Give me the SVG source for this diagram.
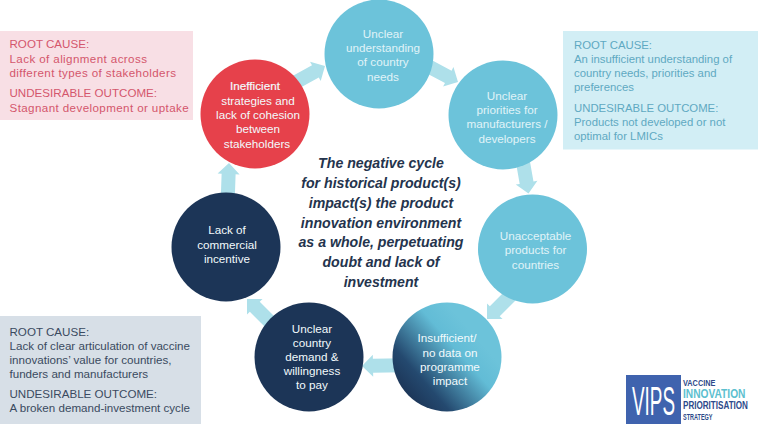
<svg xmlns="http://www.w3.org/2000/svg" width="758" height="424" viewBox="0 0 758 424">
<style>
text{font-family:"Liberation Sans",Arial,sans-serif}
.n{font-size:11.7px;fill:#f2fafc;text-anchor:middle}
.l{fill:#e0f3f8}
.r{font-size:11.6px;fill:#d4566c}.s{letter-spacing:0.4px}
.t{font-size:11.35px;fill:#5fa9c2}.d{font-size:11.6px;fill:#3a4a60}
.c{font-size:14.15px;font-weight:bold;font-style:italic;fill:#24344d;text-anchor:middle}
.ar{fill:#aee0ea}
.lg{font-weight:bold;fill:#2d4a8a}
</style>
<defs>
<linearGradient id="g" x1="0.12" y1="0.85" x2="0.75" y2="0.3">
<stop offset="0" stop-color="#1c3557"/><stop offset="0.25" stop-color="#24496f"/><stop offset="0.75" stop-color="#62bcd6"/><stop offset="1" stop-color="#6cc3da"/>
</linearGradient>
<path id="a" d="M0,0L-11,-11L-11,-7L-40,-7L-40,7L-11,7L-11,11Z"/>
</defs>
<rect width="758" height="424" fill="#fff"/>
<g id="connectors" class="ar">
<use href="#a" transform="translate(325,66) rotate(-29)"/>
<use href="#a" transform="translate(458,82) rotate(28)"/>
<use href="#a" transform="translate(528.500,193.500) rotate(80)"/>
<use href="#a" transform="translate(487,319) rotate(135)"/>
<use href="#a" transform="translate(362,366) rotate(179)"/>
<use href="#a" transform="translate(247,299) rotate(-135)"/>
<use href="#a" transform="translate(229,163) rotate(-88)"/>
</g>
<g id="box-red">
<rect x="0" y="31" width="193" height="89" fill="#f8dfe5"/>
<text class="r" x="9.500" y="48">ROOT CAUSE:</text>
<text class="r s" x="9.500" y="62.700">Lack of alignment across</text>
<text class="r s" x="9.500" y="76.700">different types of stakeholders</text>
<text class="r" x="9.500" y="97">UNDESIRABLE OUTCOME:</text>
<text class="r s" x="9.500" y="111.700">Stagnant development or uptake</text>
</g>
<g id="box-teal">
<rect x="563" y="31" width="195" height="118.500" fill="#d2eef5"/>
<text class="t" x="574" y="49">ROOT CAUSE:</text>
<text class="t" x="574" y="63">An insufficient understanding of</text>
<text class="t" x="574" y="77">country needs, priorities and</text>
<text class="t" x="574" y="91">preferences</text>
<text class="t" x="574" y="112">UNDESIRABLE OUTCOME:</text>
<text class="t" x="574" y="126">Products not developed or not</text>
<text class="t" x="574" y="140">optimal for LMICs</text>
</g>
<g id="box-navy">
<rect x="0" y="316" width="201" height="108" fill="#d7dfe7"/>
<text class="d" x="9.500" y="335.700">ROOT CAUSE:</text>
<text class="d" x="9.500" y="350">Lack of clear articulation of vaccine</text>
<text class="d" x="9.500" y="364">innovations’ value for countries,</text>
<text class="d" x="9.500" y="378">funders and manufacturers</text>
<text class="d" x="9.500" y="398">UNDESIRABLE OUTCOME:</text>
<text class="d" x="9.500" y="412">A broken demand-investment cycle</text>
</g>
<g id="node-understanding">
<circle cx="379" cy="54" r="54.500" fill="#6cc3da"/>
<text class="n l" x="383" y="37.500">Unclear</text><text class="n l" x="383" y="52">understanding</text><text class="n l" x="383" y="66">of country</text><text class="n l" x="383" y="80.500">needs</text>
</g>
<g id="node-priorities">
<circle cx="503" cy="115" r="54.500" fill="#6cc3da"/>
<text class="n l" x="507" y="100">Unclear</text><text class="n l" x="507" y="114">priorities for</text><text class="n l" x="507" y="128">manufacturers /</text><text class="n l" x="507" y="142.500">developers</text>
</g>
<g id="node-products">
<circle cx="532.500" cy="249" r="54.500" fill="#6cc3da"/>
<text class="n l" x="535.500" y="240">Unacceptable</text><text class="n l" x="535.500" y="254">products for</text><text class="n l" x="535.500" y="269">countries</text>
</g>
<g id="node-data">
<circle cx="447" cy="357" r="54.500" fill="url(#g)"/>
<text class="n" x="447" y="342">Insufficient/</text><text class="n" x="450" y="357">no data on</text><text class="n" x="450" y="371">programme</text><text class="n" x="450" y="385">impact</text>
</g>
<g id="node-demand">
<circle cx="309" cy="357" r="54.500" fill="#1c3557"/>
<text class="n" x="312" y="332.500">Unclear</text><text class="n" x="312" y="346.500">country</text><text class="n" x="312" y="360.500">demand &amp;</text><text class="n" x="312" y="375">willingness</text><text class="n" x="312" y="389">to pay</text>
</g>
<g id="node-incentive">
<circle cx="226" cy="247" r="54.500" fill="#1c3557"/>
<text class="n" x="227" y="234">Lack of</text><text class="n" x="227" y="249">commercial</text><text class="n" x="227" y="263">incentive</text>
</g>
<g id="node-inefficient">
<circle cx="255" cy="114" r="54.500" fill="#e6414b"/>
<text class="n" x="255" y="90" stroke="#f2fafc" stroke-width="0.2">Inefficient</text><text class="n" x="258" y="105">strategies and</text><text class="n" x="258" y="119">lack of cohesion</text><text class="n" x="258" y="133">between</text><text class="n" x="257" y="148">stakeholders</text>
</g>
<g id="center">
<text class="c" x="381" y="168">The negative cycle</text>
<text class="c" x="381" y="188">for historical product(s)</text>
<text class="c" x="381" y="208">impact(s) the product</text>
<text class="c" x="381" y="228">innovation environment</text>
<text class="c" x="381" y="247">as a whole, perpetuating</text>
<text class="c" x="381" y="267">doubt and lack of</text>
<text class="c" x="381" y="287">investment</text>
</g>
<g id="logo">
<rect x="626" y="375" width="55" height="49" fill="#3f63ae"/>
<text transform="translate(632,415) scale(0.46,1)" font-size="41" fill="#fff">VIPS</text>
<text class="lg" transform="translate(683,386) scale(0.77,1)" font-size="9.500">VACCINE</text>
<text transform="translate(683,398) scale(0.85,1)" font-size="12" font-weight="bold" fill="#5cc0cf">INNOVATION</text>
<text class="lg" transform="translate(683,409) scale(0.81,1)" font-size="10">PRIORITISATION</text>
<text class="lg" transform="translate(683,419.500) scale(0.58,1)" font-size="9.500">STRATEGY</text>
</g>
</svg>
